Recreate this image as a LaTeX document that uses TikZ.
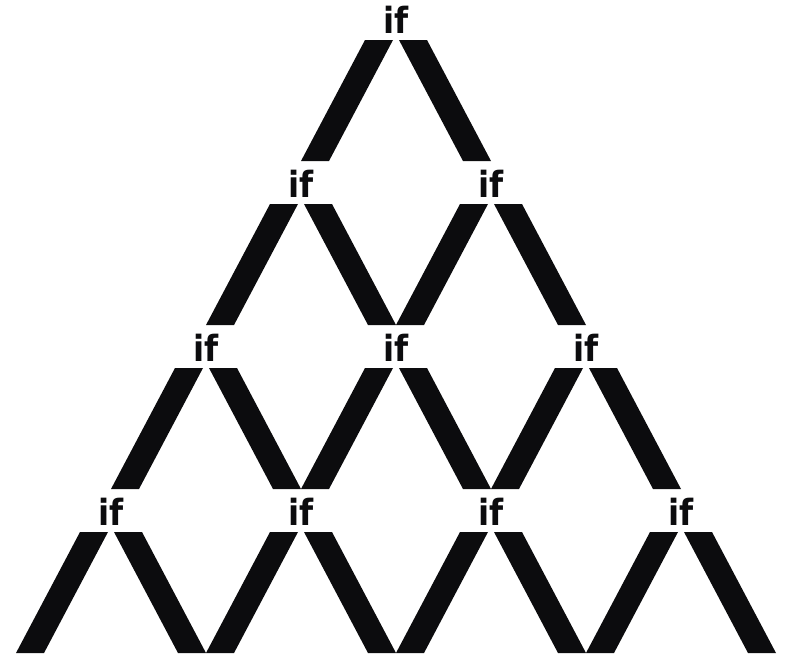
\documentclass[tikz,border=0pt]{standalone}
\usepackage{fontspec}
\usepackage{tikz}
\usetikzlibrary{calc}
\newfontfamily\labelfont{DejaVu Sans Condensed}
\definecolor{barblack}{RGB}{12,12,14}

\begin{document}
\begin{tikzpicture}[
    x=1pt, y=-1pt,
    iflabel/.style={inner sep=0pt, font=\labelfont\bfseries\fontsize{36}{36}\selectfont, text=barblack},
    ifbar/.style={fill=barblack, draw=none},
]
    \useasboundingbox (0,0) rectangle (787,657);
    % the if nodes, row by row
    \foreach \r in {1,...,4} {
        \foreach \k in {1,...,\r} {
            \node[iflabel] (if-\r-\k) at ({396+(2*\k-\r-1)*95}, {20+(\r-1)*164}) {if};
        }
    }
    % two bars under every if
    \foreach \r in {1,...,4} {
        \foreach \k in {1,...,\r} {
            \fill[ifbar] ($(if-\r-\k)+(-3,20)$) -- ($(if-\r-\k)+(-31,20)$)
                -- ($(if-\r-\k)+(-95,141)$) -- ($(if-\r-\k)+(-67,141)$) -- cycle;
            \fill[ifbar] ($(if-\r-\k)+(3,20)$) -- ($(if-\r-\k)+(31,20)$)
                -- ($(if-\r-\k)+(95,141)$) -- ($(if-\r-\k)+(67,141)$) -- cycle;
        }
    }
\end{tikzpicture}
\end{document}
